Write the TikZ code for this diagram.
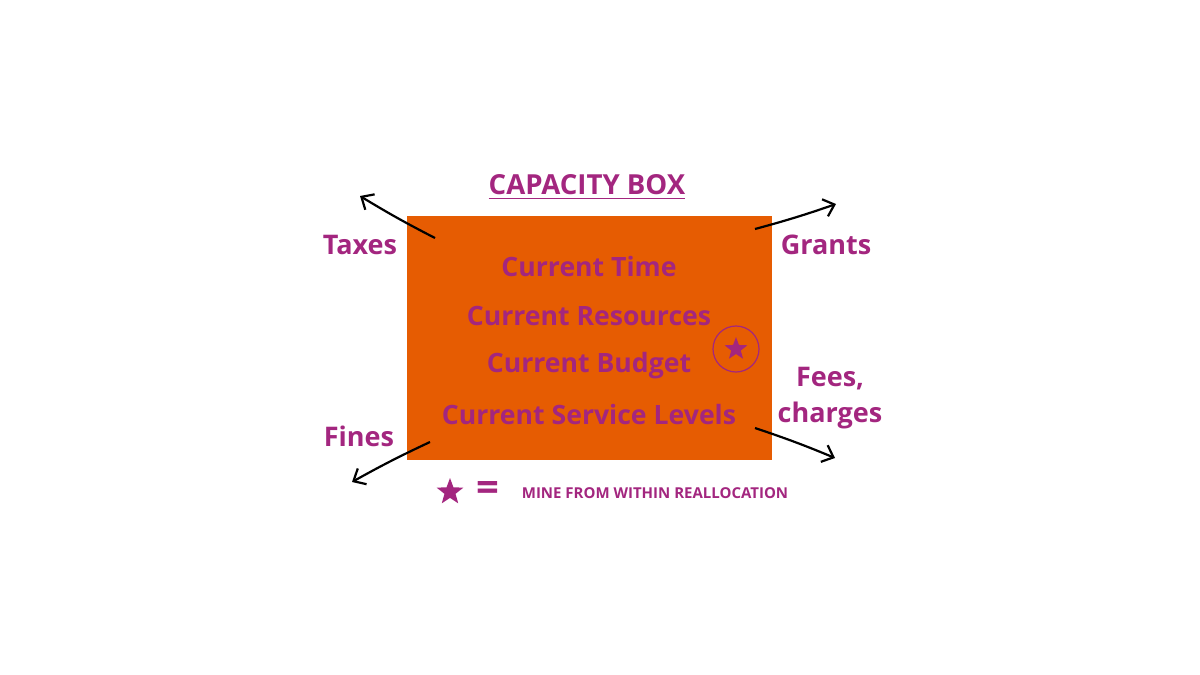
\documentclass[tikz,border=0pt]{standalone}
\usepackage{fontspec}
\setmainfont{Open Sans}
\usetikzlibrary{arrows.meta,shapes.geometric}
\definecolor{boxorange}{HTML}{E65C02}
\definecolor{plum}{HTML}{A3267F}
\tikzset{
  label text/.style={text=plum,font=\bfseries\fontsize{13.5}{15}\selectfont,align=center},
  row text/.style={text=plum,font=\bfseries\fontsize{13.3}{15}\selectfont},
  flow/.style={black,line width=1.1pt,-{Straight Barb[length=5pt,width=9pt]}},
  starmark/.style={star,star points=5,star point ratio=2.4,fill=plum,inner sep=0pt,minimum size=#1}
}
\begin{document}
\begin{tikzpicture}[x=0.5pt,y=-0.5pt]
    \useasboundingbox (0,0) rectangle (1200,675);
    \fill[boxorange] (407,216) rectangle (772,460);
    % title
    \node[label text,font=\bfseries\fontsize{13.8}{15}\selectfont] (title) at (587,187) {\underline{CAPACITY BOX}};
    % rows inside the box
    \node[row text] (time) at (589,267) {Current Time};
    \node[row text] (res) at (589,316) {Current Resources};
    \node[row text] (budget) at (589,366) {Current Budget};
    \node[row text] (service) at (589,415) {Current Service Levels};
    \node[draw=plum,circle,line width=0.6pt,minimum size=23pt] (ring) at (736,349) {};
    \node[starmark=12pt] at (ring) {};
    % side labels
    \node[label text] (taxes) at (360,245) {Taxes};
    \node[label text] (grants) at (826,245) {Grants};
    \node[label text] (fees) at (830,398) {Fees,\\[3pt]charges};
    \node[label text] (fines) at (359,436) {Fines};
    % arrows
    \coordinate (tl) at (435,238); \coordinate (tlx) at (360,196);
    \coordinate (tr) at (755,229); \coordinate (trx) at (836,204);
    \coordinate (br) at (755,428); \coordinate (brx) at (835,458);
    \coordinate (bl) at (430,442); \coordinate (blx) at (352,482);
    \draw[flow] (tl) to[bend left=2] (tlx);
    \draw[flow] (tr) to[bend right=2] (trx);
    \draw[flow] (br) to[bend left=2] (brx);
    \draw[flow] (bl) to[bend right=2] (blx);
    % legend
    \node[starmark=14pt] (key) at (450,492) {};
    \node[text=plum,font=\bfseries\fontsize{20}{20}\selectfont] (eq) at (488,491) {=};
    \node[text=plum,font=\bfseries\fontsize{7.5}{9}\selectfont] (keytext) at (655,493) {MINE FROM WITHIN REALLOCATION};
\end{tikzpicture}
\end{document}
